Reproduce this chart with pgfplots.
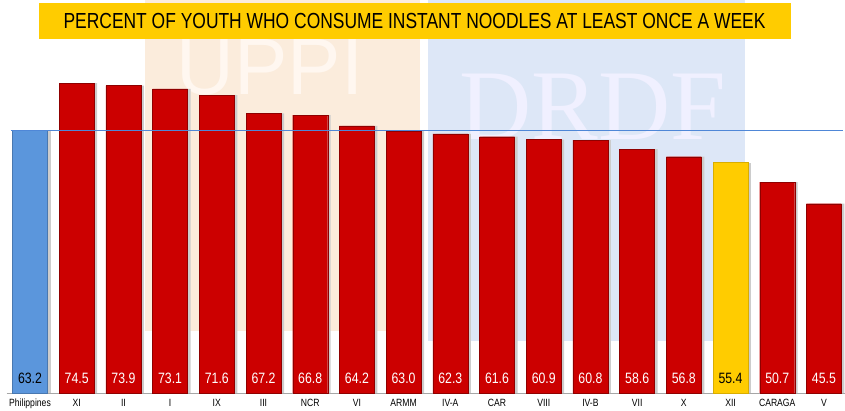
\documentclass[border=0pt]{standalone}
\usepackage{fontspec}
\setmainfont{Liberation Sans}[FakeStretch=0.82]
\newfontfamily\titlefont{Liberation Sans}[FakeStretch=0.80]
\newfontfamily\wmserif{Liberation Serif}
\newfontfamily\wmsans{Liberation Sans}
\usepackage{pgfplots}
\usepackage{pgfplotstable}
\pgfplotsset{compat=1.18}
\definecolor{barred}{RGB}{204,0,0}
\definecolor{barblue}{RGB}{91,150,220}
\definecolor{baryel}{RGB}{255,204,0}
\definecolor{wmorange}{RGB}{251,236,220}
\definecolor{wmblue}{RGB}{221,231,247}
\definecolor{hlineblue}{RGB}{79,135,215}
\pgfplotstableread{
x y
0 63.2
}\blue
\pgfplotstableread{
x y
1 74.5
2 73.9
3 73.1
4 71.6
5 67.2
6 66.8
7 64.2
8 63.0
9 62.3
10 61.6
11 60.9
12 60.8
13 58.6
14 56.8
16 50.7
17 45.5
}\red
\pgfplotstableread{
x y
15 55.4
}\yel
\begin{document}
\begin{tikzpicture}[x=1pt,y=1pt]
\useasboundingbox (0,0) rectangle (845,411);
% watermarks
\fill[wmorange] (145,80) rectangle (420,411);
\fill[wmblue] (428,70) rectangle (745,411);
\node[font=\fontsize{80}{80}\wmsans, text=white!94!orange, anchor=base] at (270,316) {UPPI};
\node[font=\fontsize{100}{100}\wmserif, text=white!94!blue, anchor=base] at (593,271) {DRDF};
% title
\fill[baryel] (39,372) rectangle (791,408);
\node[font=\fontsize{21.8}{21.8}\titlefont, anchor=base] at (414.5,382) {PERCENT OF YOUTH WHO CONSUME INSTANT NOODLES AT LEAST ONCE A WEEK};
\begin{axis}[
  at={(30pt,18pt)}, anchor=origin,
  scale only axis, width=838.3pt, height=332.8pt,
  xmin=-0.5, xmax=17.45, ymin=0, ymax=80,
  hide y axis,
  axis x line=bottom,
  x axis line style={-, draw=gray!70},
  xtick={0,...,17},
  xticklabels={Philippines,XI,II,I,IX,III,NCR,VI,ARMM,IV-A,CAR,VIII,IV-B,VII,X,XII,CARAGA,V},
  xticklabel style={font=\fontsize{10.5}{10.5}\selectfont, yshift=-2.5pt},
  major tick length=0pt,
  ybar, bar width=35pt,
  clip=false,
  /pgf/number format/assume math mode=true,
]
% shadows
\addplot[bar shift=3pt, fill=gray!40, draw=none, forget plot] table[x=x, y=y] {\red};
\addplot[bar shift=3pt, fill=gray!40, draw=none, forget plot] table[x=x, y=y] {\blue};
\addplot[bar shift=3pt, fill=gray!40, draw=none, forget plot] table[x=x, y=y] {\yel};
% bars
\addplot[bar shift=0pt, fill=barblue, draw=barblue!80!black] table[x=x, y=y] {\blue};
\addplot[bar shift=0pt, fill=barred, draw=barred!70!black] table[x=x, y=y] {\red};
\addplot[bar shift=0pt, fill=baryel, draw=baryel!85!black] table[x=x, y=y] {\yel};
% reference line
\addplot[sharp plot, color=hlineblue, line width=1.1pt, mark=none, forget plot] coordinates {(-0.41,63.2) (17.41,63.2)};
% value labels
\addplot[only marks, mark=none, bar shift=0pt, point meta=explicit,
  nodes near coords,
  every node near coord/.append style={anchor=center, yshift=15pt, text=black, font=\fontsize{15}{15}\selectfont,
    /pgf/number format/.cd, fixed, fixed zerofill, precision=1, assume math mode=true}]
  table[x=x, y expr=0, meta=y] {\blue};
\addplot[only marks, mark=none, bar shift=0pt, point meta=explicit,
  nodes near coords,
  every node near coord/.append style={anchor=center, yshift=15pt, text=white, font=\fontsize{15}{15}\selectfont,
    /pgf/number format/.cd, fixed, fixed zerofill, precision=1, assume math mode=true}]
  table[x=x, y expr=0, meta=y] {\red};
\addplot[only marks, mark=none, bar shift=0pt, point meta=explicit,
  nodes near coords,
  every node near coord/.append style={anchor=center, yshift=15pt, text=black, font=\fontsize{15}{15}\selectfont,
    /pgf/number format/.cd, fixed, fixed zerofill, precision=1, assume math mode=true}]
  table[x=x, y expr=0, meta=y] {\yel};
\end{axis}
\end{tikzpicture}
\end{document}
